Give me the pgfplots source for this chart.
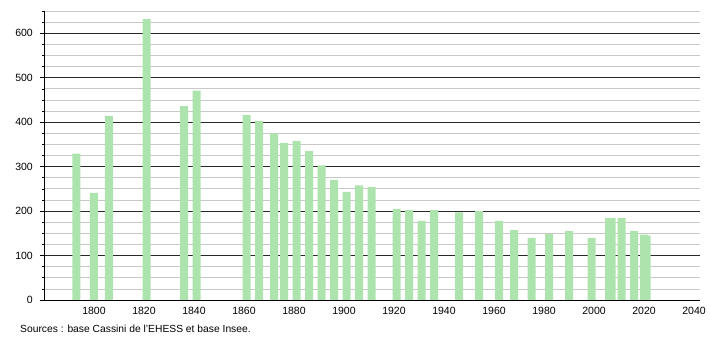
\documentclass[border=0pt]{standalone}
\usepackage{pgfplots}
\pgfplotsset{compat=1.18}
\usepackage{fontspec}
\setmainfont{Liberation Sans}
\definecolor{barg}{RGB}{173,227,173}
\definecolor{majg}{RGB}{40,40,40}
\definecolor{ming}{RGB}{200,200,200}
\begin{document}
\begin{tikzpicture}[x=1pt,y=1pt]
\begin{axis}[
  scale only axis,
  width=656pt, height=289pt,
  xmin=1780, xmax=2042.4,
  ymin=0, ymax=650,
  axis x line*=bottom,
  axis y line*=left,
  axis line style={black, line width=0.8pt},
  xtick={1800,1820,...,2040},
  xticklabel style={/pgf/number format/1000 sep={}, font=\fontsize{10.5}{12}\selectfont, inner sep=1pt, yshift=-2pt},
  x tick style={draw=none},
  ytick={0,100,...,600},
  minor ytick={25,50,75,125,150,175,225,250,275,325,350,375,425,450,475,525,550,575,625,650},
  yticklabel style={font=\fontsize{10.5}{12}\selectfont, inner sep=1pt, xshift=-6pt},
  /pgf/number format/assume math mode=true,
  tick align=outside,
  major tick length=4pt,
  minor tick length=2pt,
  y tick style={black, line width=0.6pt},
  ymajorgrids, yminorgrids,
  major grid style={majg, line width=0.7pt},
  minor grid style={ming, line width=0.7pt},
  clip=false,
]
\addplot[ybar, bar width=3.2, fill=barg, draw=none] coordinates {
(1793,329) (1800,241) (1806,414) (1821,632) (1836,436) (1841,471)
(1861,416) (1866,403) (1872,375) (1876,353) (1881,358) (1886,335)
(1891,303) (1896,270) (1901,243) (1906,258) (1911,254)
(1921,205) (1926,202) (1931,178) (1936,202) (1946,197)
(1954,200) (1962,178) (1968,157) (1975,140) (1982,148) (1990,155)
(1999,140) (2006,184) (2007,184) (2011,184) (2016,155) (2020,147) (2021,145)
};
\end{axis}
\node[anchor=west, inner sep=0pt, font=\fontsize{10.3}{12}\selectfont] at (-24pt,-29pt) {Sources : base Cassini de l'EHESS et base Insee.};
\pgfresetboundingbox
\path[use as bounding box] (-44pt,-40pt) rectangle (666pt,300pt);
\end{tikzpicture}
\end{document}
